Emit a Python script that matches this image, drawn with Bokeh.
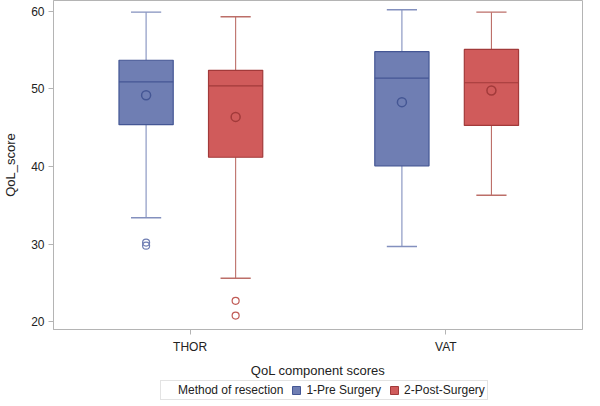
from bokeh.plotting import figure
from bokeh.layouts import column
from bokeh.models import (Range1d, FixedTicker, Legend, LegendItem)
from bokeh.embed import file_html
from bokeh.resources import INLINE

categories = ["THOR", "VAT"]
groups = ["1-Pre Surgery", "2-Post-Surgery"]

# 1-Pre Surgery
pre_low = [33.4, 29.7]
pre_q1 = [45.4, 40.1]
pre_median = [50.9, 51.4]
pre_q3 = [53.7, 54.8]
pre_high = [59.9, 60.2]
pre_mean = [49.2, 48.3]
pre_outlier_cat = ["THOR", "THOR"]
pre_outlier_val = [30.2, 29.8]

# 2-Post-Surgery
post_low = [25.6, 36.3]
post_q1 = [41.2, 45.3]
post_median = [50.4, 50.8]
post_q3 = [52.4, 55.1]
post_high = [59.3, 59.9]
post_mean = [46.4, 49.8]
post_outlier_cat = ["THOR", "THOR"]
post_outlier_val = [22.7, 20.8]

FONT = "Liberation Sans"

p = figure(width=584, height=380, output_backend="svg", toolbar_location=None,
           x_range=Range1d(-0.534, 1.534), y_range=Range1d(19.0, 61.4),
           min_border_left=44, min_border_right=2, min_border_top=0,
           min_border_bottom=0)
p.xgrid.visible = False
p.ygrid.visible = False
p.outline_line_color = "#B4B4B4"
p.outline_line_width = 1

BW = 0.212
CAP = 0.118
styles = [
    dict(off=-0.172, fill="#6F7EB3", edge="#445694", whisk="#8390BE", out="#6F7EB3",
         low=pre_low, q1=pre_q1, med=pre_median, q3=pre_q3, high=pre_high, mean=pre_mean,
         oc=pre_outlier_cat, ov=pre_outlier_val),
    dict(off=0.178, fill="#D05B5B", edge="#A23A3A", whisk="#BC6E68", out="#C05A55",
         low=post_low, q1=post_q1, med=post_median, q3=post_q3, high=post_high, mean=post_mean,
         oc=post_outlier_cat, ov=post_outlier_val),
]

for s in styles:
    xs = [i + s["off"] for i in range(len(categories))]
    s["xs"] = xs
    p.segment(x0=xs, x1=xs, y0=s["q3"], y1=s["high"], line_color=s["whisk"], line_width=1.1)
    p.segment(x0=xs, x1=xs, y0=s["q1"], y1=s["low"], line_color=s["whisk"], line_width=1.1)
    p.segment(x0=[x - CAP / 2 for x in xs], x1=[x + CAP / 2 for x in xs],
              y0=s["high"], y1=s["high"], line_color=s["whisk"], line_width=1.4)
    p.segment(x0=[x - CAP / 2 for x in xs], x1=[x + CAP / 2 for x in xs],
              y0=s["low"], y1=s["low"], line_color=s["whisk"], line_width=1.4)
    p.vbar(x=xs, width=BW, bottom=s["q1"], top=s["q3"], fill_color=s["fill"],
           line_color=s["edge"], line_width=1.2)
    p.segment(x0=[x - BW / 2 for x in xs], x1=[x + BW / 2 for x in xs],
              y0=s["med"], y1=s["med"], line_color=s["edge"], line_width=1.2)
    p.scatter(x=xs, y=s["mean"], marker="circle", size=9, fill_alpha=0,
              line_color=s["edge"], line_width=1.5)
    ox = [categories.index(c) + s["off"] for c in s["oc"]]
    p.scatter(x=ox, y=s["ov"], marker="circle", size=7, fill_alpha=0,
              line_color=s["out"], line_width=1.2)

p.xaxis.ticker = FixedTicker(ticks=list(range(len(categories))))
p.xaxis.major_label_overrides = {i: c for i, c in enumerate(categories)}
p.xaxis.minor_tick_line_color = None
p.yaxis.ticker = FixedTicker(ticks=[20, 30, 40, 50, 60])
p.yaxis.minor_tick_line_color = None
for ax in (p.xaxis[0], p.yaxis[0]):
    ax.axis_line_color = "#B4B4B4"
    ax.major_tick_line_color = "#B4B4B4"
    ax.major_tick_out = 5
    ax.major_tick_in = 0
    ax.major_label_text_font = FONT
    ax.major_label_text_font_size = "12px"
    ax.major_label_text_color = "#222222"
    ax.axis_label_text_font = FONT
    ax.axis_label_text_font_size = "13px"
    ax.axis_label_text_font_style = "normal"
    ax.axis_label_text_color = "#222222"
p.xaxis.axis_label = "QoL component scores"
p.yaxis.axis_label = "QoL_score"
p.xaxis.major_label_standoff = 5
p.xaxis.axis_label_standoff = 6
p.yaxis.major_label_standoff = 4
p.yaxis.axis_label_standoff = 10

# separate strip for the legend (below the x-axis title); its ranges are set
# away from the data so the key renderers themselves stay out of view
lg = figure(width=584, height=24, output_backend="svg", toolbar_location=None,
            x_range=Range1d(100, 101), y_range=Range1d(100, 101),
            x_axis_location=None, y_axis_location=None,
            min_border_left=0, min_border_right=0, min_border_top=0, min_border_bottom=0)
lg.xgrid.visible = False
lg.ygrid.visible = False
lg.outline_line_color = None
title_r = lg.vbar(x=styles[0]["xs"], width=BW, bottom=pre_q1, top=pre_q3,
                  fill_alpha=0, line_alpha=0)
group_r = [lg.vbar(x=s["xs"], width=BW, bottom=s["q1"], top=s["q3"], fill_color=s["fill"],
                   line_color=s["edge"], line_width=1) for s in styles]

items = [LegendItem(label="Method of resection", renderers=[title_r])]
items += [LegendItem(label=g, renderers=[r]) for g, r in zip(groups, group_r)]
legend = Legend(items=items, orientation="horizontal", location=(107, 4))
legend.label_text_font = FONT
legend.label_text_font_size = "12px"
legend.label_text_color = "#222222"
legend.glyph_width = 10
legend.glyph_height = 10
legend.label_standoff = 5
legend.spacing = 8
legend.padding = 2
legend.margin = 0
legend.border_line_color = "#C8C8C8"
legend.label_height = 12
lg.add_layout(legend, "center")

layout = column(p, lg, spacing=0)
open("out.html", "w").write(file_html(layout, INLINE))
